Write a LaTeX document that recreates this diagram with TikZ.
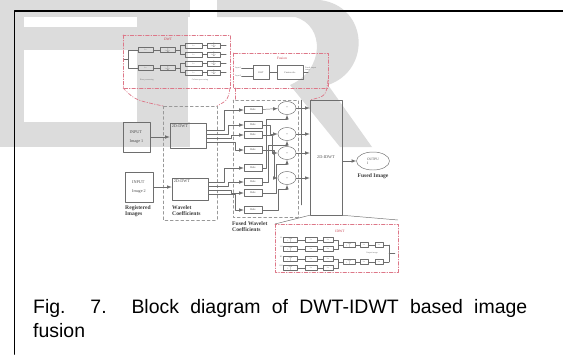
\documentclass[tikz,border=0pt]{standalone}
\usepackage{fontspec}
\setmainfont{Liberation Serif}
\newfontfamily\capfont{Liberation Sans}
\usetikzlibrary{shapes.geometric,arrows,calc,positioning}
\definecolor{wmark}{HTML}{DCDCDC}
\definecolor{ink}{HTML}{6E6E6E}
\definecolor{pk}{HTML}{DD7788}
\definecolor{pkt}{HTML}{C8404F}
\tikzset{
	ln/.style={draw=ink, line width=0.4pt},
	arr/.style={ln, -latex},
	blk/.style={draw=ink, line width=0.4pt, inner sep=0.5pt, text=ink!70!black, font=\fontsize{3.6}{4.2}\selectfont},
	rl/.style={blk, minimum width=0.54cm, minimum height=0.21cm, font=\fontsize{2.4}{2.6}\selectfont},
	fus/.style={blk, ellipse, minimum width=0.54cm, minimum height=0.39cm, font=\fontsize{3}{3}\selectfont},
	tb/.style={draw=ink, line width=0.3pt, inner sep=0pt, minimum height=0.16cm, text=ink, font=\fontsize{1.6}{1.8}\selectfont},
	tiny/.style={inner sep=0pt, text=ink, font=\fontsize{1.8}{2}\selectfont, align=left},
	pkbox/.style={draw=pk, line width=0.6pt, dash pattern=on 3pt off 1.5pt on 0.6pt off 1.5pt},
	gbox/.style={draw=ink!70, line width=0.4pt, dash pattern=on 2.5pt off 2pt},
	ttl/.style={inner sep=0pt, text=pkt, font=\fontsize{3}{3}\selectfont},
	lbl/.style={inner sep=0pt, align=left, text=ink!55!black, font=\fontsize{4.8}{5.2}\selectfont\bfseries},
	captxt/.style={inner sep=0pt, anchor=base west, font=\capfont\fontsize{16.6}{20}\selectfont}
}
\begin{document}
\begin{tikzpicture}[x=0.03cm, y=-0.03cm, line join=round, line cap=round]
	\useasboundingbox (0,0) rectangle (563,354);
	\fill[wmark] (0,0) rectangle (24,147);
	\fill[wmark] (24,0) rectangle (190,17);
	\fill[wmark] (24,27) rectangle (137,50);
	\fill[wmark] (137,17) rectangle (188,147);
	\fill[wmark] (24,122) rectangle (190,147);
	\fill[wmark] (217,0) -- (320,0) .. controls (368,6) and (372,70) .. (328,85) -- (372,147) -- (340,147) -- (290,85) .. controls (325,70) and (325,25) .. (295,17) -- (217,17) -- cycle;
	\draw[line width=1.7pt] (14.5,354) -- (14.5,10.5) -- (563,10.5);

	\draw[pkbox] (123,35) rectangle (230,88);
	\draw[pkbox] (123,88) .. controls (135,100) .. (163,106);
	\draw[pkbox] (230,88) .. controls (228,100) .. (217,106);
	\node[ttl] (dwtt) at (168,39) {DWT};
	\coordinate (din) at (124,59);
	\coordinate (dsp) at (128,59);
	\draw[ln] (din) -- (dsp);
	\foreach \y/\n in {50/1,68/2}{
		\node[tb, minimum width=0.45cm] (fa\n) at (145.5,\y) {Lo};
		\node[tb, minimum width=0.45cm] (fb\n) at (167.5,\y) {2$\downarrow$};
		\draw[ln] (dsp) |- (fa\n.west);
		\draw[ln] (fa\n) -- (fb\n);
		\foreach \d/\m in {-4.5/1,4.5/2}{
			\node[tb, minimum width=0.51cm] (fc\n\m) at (193.5,\y+\d) {Lo};
			\node[tb, minimum width=0.39cm] (fd\n\m) at (213.5,\y+\d) {2$\downarrow$};
			\draw[ln] (fb\n.east) -- ++(5,0) |- (fc\n\m.west);
			\draw[ln] (fc\n\m) -- (fd\n\m);
			\draw[ln] (fd\n\m.east) -- ++(6,0);
		}
	}
	\node[tiny] (rowt) at (147,80) {Row processing};
	\node[tiny] (colt) at (200,80) {Column processing};

	\draw[pkbox] (233,53) rectangle (328,88);
	\draw[pkbox] (235,88) -- (235,100);
	\draw[pkbox] (328,80) .. controls (326,96) .. (310,100);
	\node[ttl] (fust) at (282,58) {Fusion};
	\node[tiny, anchor=west] (in1) at (235,68) {Input 1};
	\node[tiny, anchor=west] (in2) at (235,76) {Input 2};
	\node[blk, minimum width=0.48cm, minimum height=0.42cm, font=\fontsize{2}{2}\selectfont] (fu1) at (261,72.5) {DWT};
	\node[blk, minimum width=0.78cm, minimum height=0.42cm, font=\fontsize{2}{2}\selectfont] (fu2) at (290,72.5) {Fusion rule};
	\draw[ln] (in1.east) -- (fu1.west |- in1.east);
	\draw[ln] (in2.east) -- (fu1.west |- in2.east);
	\draw[ln] (fu1) -- (fu2);
	\draw[ln] (fu2.east) -- ++(5,0);
	\node[tiny, anchor=west] (fout) at (305,69) {Fused output\\image};

	\draw[gbox] (163,106) rectangle (217,220);
	\draw[gbox] (233,100) rectangle (298,217);
	\node[blk, minimum width=0.81cm, minimum height=0.9cm, align=left] (img1) at (136.5,137) {INPUT\\[3pt]Image 1};
	\node[blk, minimum width=0.84cm, minimum height=0.9cm, align=left] (img2) at (139,187) {INPUT\\[3pt]Image 2};
	\node[blk, minimum width=1.08cm, minimum height=0.75cm, label={[anchor=north west, blk, draw=none, inner sep=1.5pt]north west:2D-DWT}] (dwt1) at (188,135.5) {};
	\node[blk, minimum width=1.08cm, minimum height=0.66cm, label={[anchor=north west, blk, draw=none, inner sep=1.5pt]north west:2D-DWT}] (dwt2) at (190,189) {};
	\draw[arr] (img1) -- (dwt1.west |- img1);
	\draw[arr] (img2) -- (dwt2.west |- img2);
	\node[lbl, anchor=north west] (regl) at (125,205) {Registered\\Images};
	\node[lbl, anchor=north west] (wavl) at (172,205) {Wavelet\\Coefficients};

	\foreach \y/\n in {110/1,125/2,135/3,150/4,168/5,182/6,193/7,210/8}
		\node[rl] (r\n) at (253,\y) {Rule};
	\foreach \n/\o/\x in {1/130/224,2/134/228,3/138/231,4/142/235}
		\draw[arr] ($(dwt1.east)+(0,\o-135.5)$) -| (\x,0 |- r\n) -- (r\n.west);
	\foreach \n/\o/\x in {5/182/224,6/186/228,7/190/231,8/194/235}
		\draw[arr] ($(dwt2.east)+(0,\o-189)$) -| (\x,0 |- r\n) -- (r\n.west);

	\foreach \y/\n in {108/1,134/2,153/3,178/4}
		\node[fus] (e\n) at (287,\y) {+};
	\draw[arr] (r1) -- (e1);
	\foreach \a/\e/\x in {2/2/270,3/3/272,4/4/274}
		\draw[arr] (r\a.east) -| (\x,0 |- e\e) -- (e\e.west);
	\foreach \a/\e/\x in {5/1/266,6/2/268,7/3/276,8/4/278}
		\draw[arr] (r\a.east) -| ($(e\e.south)+(\x-287,4)$) -| (e\e.south);

	\node[blk, minimum width=0.96cm, minimum height=3.45cm] (idwt) at (326,157.5) {2D-IDWT};
	\coordinate (bt) at (301,100);
	\coordinate (bb) at (301,205);
	\draw[ln] (bt) -- (bb);
	\foreach \n in {1,...,4}
		\draw[arr] (e\n.east) -- (idwt.west |- e\n);
	\node[fus, minimum width=0.99cm, minimum height=0.54cm, align=left, font=\fontsize{3}{3.4}\selectfont] (outi) at (373,161) {OUTPU\\I};
	\draw[arr] (idwt.east |- outi) -- (outi);
	\node[lbl, anchor=north] (fimg) at (373,173) {Fused Image};
	\node[lbl, anchor=north west] (fwl) at (232,221) {Fused Wavelet\\Coefficients};

	\draw[pkbox] (275,224) rectangle (398,272);
	\draw[ln] (idwt.south west) -- (275,224);
	\draw[ln] (idwt.south east) -- (398,220);
	\node[ttl] (idwtt) at (340,231) {IDWT};
	\foreach \y/\n/\s in {240/1/LL,249/2/LH,259/3/HL,268/4/HH}{
		\node[tiny, anchor=east] (s\n) at (283,\y-2) {\s};
		\node[tb, minimum width=0.42cm] (ia\n) at (290,\y) {2$\uparrow$};
		\node[tb, minimum width=0.36cm] (ib\n) at (311,\y) {Lo};
		\node[tb, minimum width=0.3cm] (ic\n) at (328,\y) {Lo};
		\draw[ln] (ia\n) -- (ib\n);
		\draw[ln] (ib\n) -- (ic\n);
	}
	\foreach \p/\q/\n/\y in {1/2/1/245,3/4/2/262}{
		\node[tb, minimum width=0.36cm] (ja\n) at (349,\y) {2$\uparrow$};
		\node[tb, minimum width=0.24cm] (jb\n) at (364,\y) {Lo};
		\node[tb, minimum width=0.24cm] (jc\n) at (379,\y) {Lo};
		\draw[ln] (ic\p.east) -| (338,\y) -- (ja\n.west);
		\draw[ln] (ic\q.east) -| (338,\y);
		\draw[ln] (ja\n) -- (jb\n);
		\draw[ln] (jb\n) -- (jc\n);
		\draw[ln] (jc\n.east) -- (389,\y);
	}
	\draw[ln] (389,245) -- (389,262);
	\draw[ln] (389,253.5) -- (395,253.5);
	\node[tiny] (oimg) at (372,253.5) {Output image};

	\node[captxt] (cap1) at (33,313) {\makebox[14.82cm][s]{Fig. 7. Block diagram of DWT-IDWT based image}};
	\node[captxt] (cap2) at (33,337) {fusion};
\end{tikzpicture}
\end{document}
